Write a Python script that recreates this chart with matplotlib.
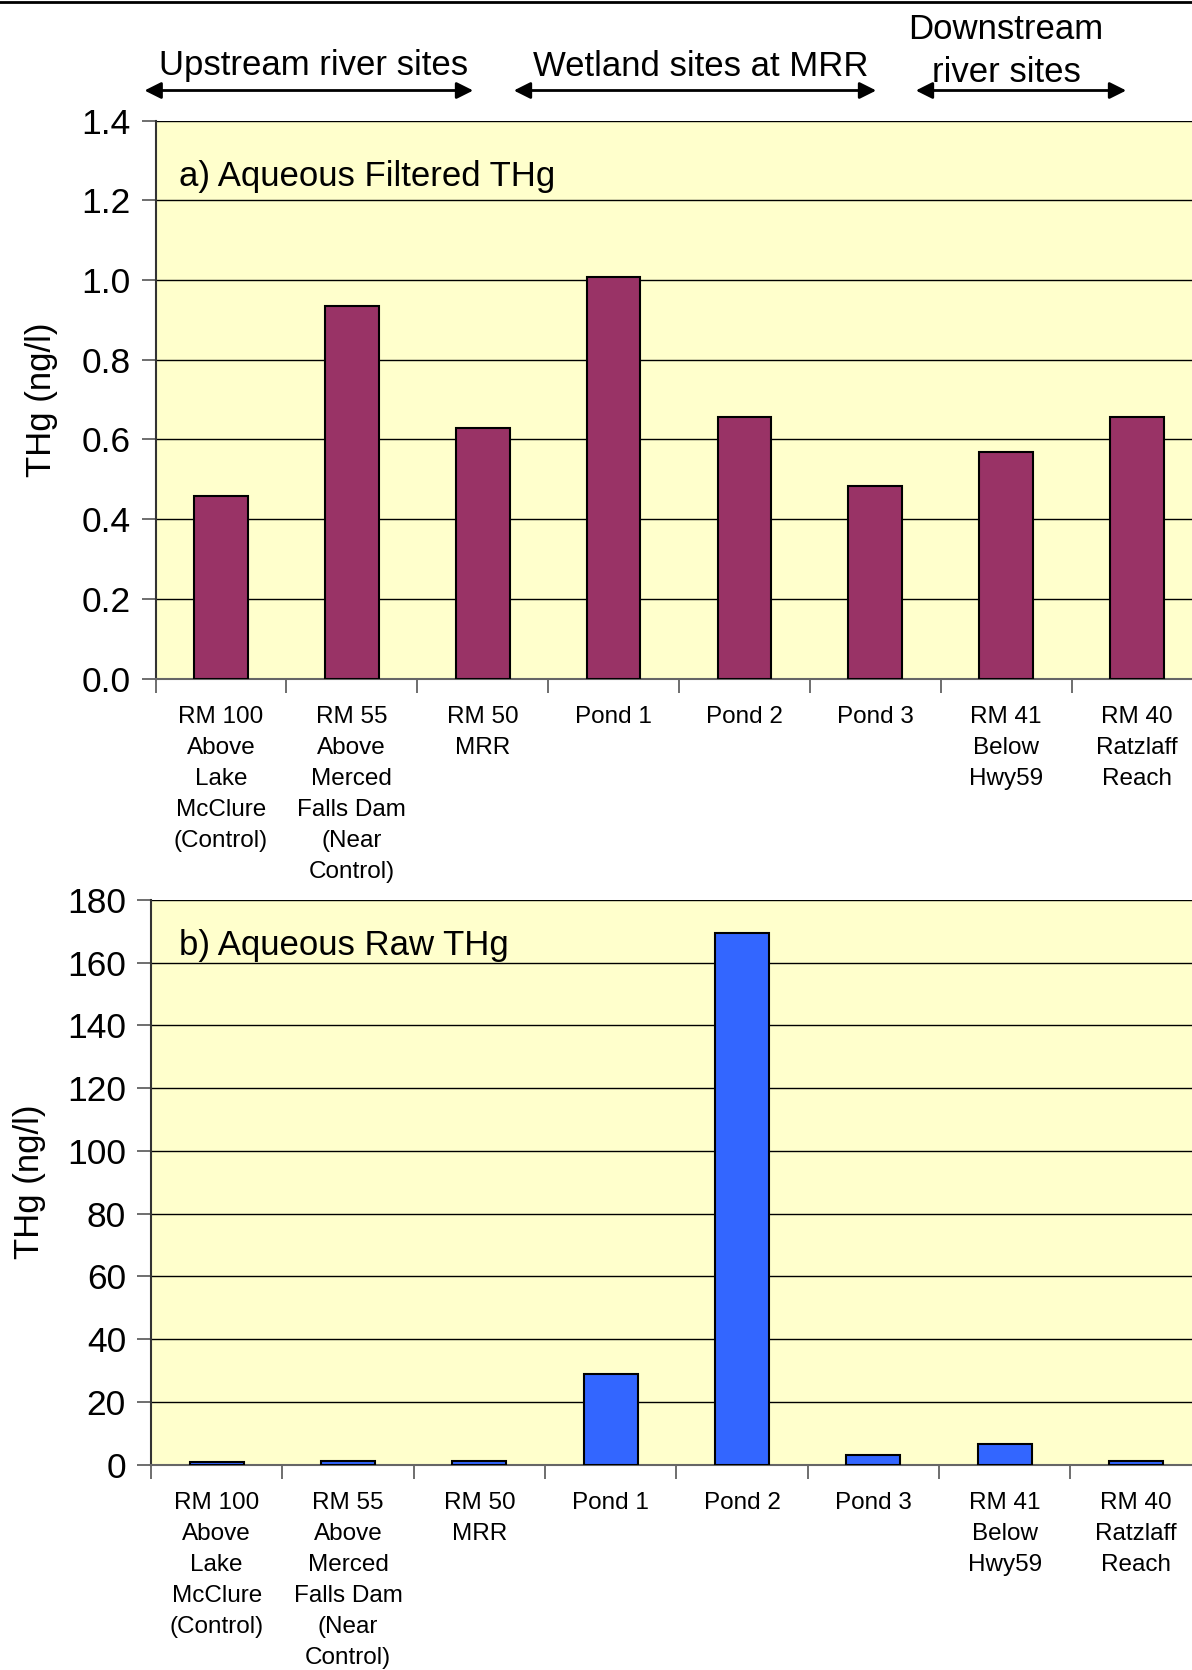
import matplotlib
matplotlib.use('Agg')
import matplotlib.pyplot as plt
from matplotlib.lines import Line2D
from matplotlib.patches import FancyArrowPatch

plt.rcParams['font.family'] = ['Liberation Sans', 'DejaVu Sans']

# site labels (same for both panels)
sites = ['RM 100\nAbove\nLake\nMcClure\n(Control)',
         'RM 55\nAbove\nMerced\nFalls Dam\n(Near\nControl)',
         'RM 50\nMRR',
         'Pond 1',
         'Pond 2',
         'Pond 3',
         'RM 41\nBelow\nHwy59',
         'RM 40\nRatzlaff\nReach']

# a) aqueous filtered THg (ng/l)
filtered_thg = [0.457, 0.935, 0.628, 1.007, 0.657, 0.484, 0.569, 0.657]
# b) aqueous raw THg (ng/l)
raw_thg = [0.7, 1.3, 1.05, 28.9, 169.5, 3.2, 6.7, 1.05]

filtered_ticks = [0.0, 0.2, 0.4, 0.6, 0.8, 1.0, 1.2, 1.4]
raw_ticks = [0, 20, 40, 60, 80, 100, 120, 140, 160, 180]

W, H = 1192, 1670
fig = plt.figure(figsize=(W / 100, H / 100), dpi=100)

bg = '#FFFFCC'


def panel(rect, values, color, yticks, fmt, title, title_xy):
    ax = fig.add_axes(rect)
    ax.set_facecolor(bg)
    x = list(range(len(values)))
    ax.bar(x, values, width=0.41, color=color, edgecolor='black', linewidth=1.5, zorder=3)
    ax.set_xlim(-0.5, len(values) - 0.5)
    ax.set_ylim(yticks[0], yticks[-1])
    ax.set_yticks(yticks)
    ax.set_yticklabels([fmt.format(v) for v in yticks], fontsize=25.5)
    ax.grid(axis='y', color='black', linewidth=1.0, zorder=1)
    ax.set_axisbelow(True)
    # category boundaries as ticks, labels centred
    ax.set_xticks([i - 0.5 for i in range(len(values))])
    ax.set_xticklabels([])
    ax.set_xticks(x, minor=True)
    ax.set_xticklabels(sites, minor=True, fontsize=17.5, linespacing=1.53, va='top')
    ax.tick_params(axis='x', which='minor', length=0, pad=20)
    ax.tick_params(axis='x', which='major', length=10, width=1.2, color='#555555')
    ax.tick_params(axis='y', length=10, width=1.2, color='#555555', pad=8)
    for s in ['top', 'right']:
        ax.spines[s].set_visible(False)
    ax.spines['left'].set_color('#333333')
    ax.spines['left'].set_linewidth(1.5)
    ax.spines['bottom'].set_color('#666666')
    ax.spines['bottom'].set_linewidth(1.5)
    ax.text(title_xy[0], title_xy[1], title, transform=ax.transAxes, fontsize=25,
            ha='left', va='center')
    return ax


panel([155.5 / W, 1 - 678.5 / H, 1047 / W, 558 / H], filtered_thg, '#993366',
      filtered_ticks, '{:.1f}', 'a) Aqueous Filtered THg', (0.022, 0.90))
panel([151 / W, 1 - 1464.6 / H, 1050.7 / W, 564.6 / H], raw_thg, '#3366FF',
      raw_ticks, '{:d}', 'b) Aqueous Raw THg', (0.027, 0.92))

fig.text(42 / W, 1 - 400 / H, 'THg (ng/l)', rotation=90, fontsize=25, ha='center', va='center')
fig.text(29 / W, 1 - 1182 / H, 'THg (ng/l)', rotation=90, fontsize=25, ha='center', va='center')

# group headers with double arrows
groups = [('Upstream river sites', 141.7, 476, 314, 66),
          ('Wetland sites at MRR', 511, 879, 701, 66),
          ('Downstream\nriver sites', 913, 1129, 1006, 51)]
for name, x0, x1, xc, yc in groups:
    fig.text(xc / W, 1 - yc / H, name, fontsize=25,
             ha='center', va='center', linespacing=1.35)
    fig.add_artist(FancyArrowPatch(
        (x0 / W, 1 - 90.5 / H), (x1 / W, 1 - 90.5 / H), transform=fig.transFigure,
        arrowstyle='<|-|>,head_length=10,head_width=5', color='black', linewidth=2,
        mutation_scale=1))

# thin rule across top edge
fig.add_artist(Line2D([0, 1], [1 - 1.5 / H, 1 - 1.5 / H], transform=fig.transFigure,
                      color='black', linewidth=2))

fig.savefig('out.png', dpi=100)
